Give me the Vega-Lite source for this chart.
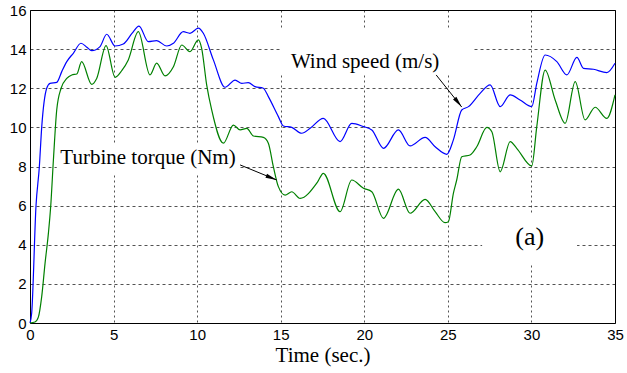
{
  "$schema": "https://vega.github.io/schema/vega-lite/v6.json",
  "width": 585,
  "height": 313,
  "autosize": {"type": "none"},
  "padding": {"left": 30, "top": 10, "right": 12, "bottom": 50},
  "background": "white",
  "datasets": {
    "series": [
      {"t":0,"v":0,"s":"wind"},{"t":0.1,"v":0.5,"s":"wind"},{"t":0.36,"v":6.0,"s":"wind"},{"t":0.56,"v":8.0,"s":"wind"},{"t":0.7,"v":10.0,"s":"wind"},{"t":1.0,"v":12.0,"s":"wind"},{"t":1.2,"v":12.25,"s":"wind"},{"t":1.6,"v":12.3,"s":"wind"},{"t":1.9,"v":12.85,"s":"wind"},{"t":2.2,"v":13.36,"s":"wind"},{"t":2.6,"v":13.8,"s":"wind"},{"t":3.05,"v":14.3,"s":"wind"},{"t":3.4,"v":14.1,"s":"wind"},{"t":3.69,"v":13.92,"s":"wind"},{"t":4.19,"v":14.13,"s":"wind"},{"t":4.59,"v":14.76,"s":"wind"},{"t":5.09,"v":14.16,"s":"wind"},{"t":5.58,"v":14.26,"s":"wind"},{"t":6.1,"v":14.8,"s":"wind"},{"t":6.52,"v":15.18,"s":"wind"},{"t":7.08,"v":14.38,"s":"wind"},{"t":7.58,"v":14.43,"s":"wind"},{"t":8.18,"v":14.16,"s":"wind"},{"t":8.58,"v":14.3,"s":"wind"},{"t":9.17,"v":14.89,"s":"wind"},{"t":9.57,"v":14.81,"s":"wind"},{"t":10.07,"v":15.07,"s":"wind"},{"t":10.37,"v":14.81,"s":"wind"},{"t":10.97,"v":13.45,"s":"wind"},{"t":11.67,"v":12.05,"s":"wind"},{"t":12.27,"v":12.42,"s":"wind"},{"t":12.67,"v":12.25,"s":"wind"},{"t":13.06,"v":12.29,"s":"wind"},{"t":13.46,"v":12.08,"s":"wind"},{"t":13.96,"v":12.0,"s":"wind"},{"t":14.26,"v":11.57,"s":"wind"},{"t":14.86,"v":10.55,"s":"wind"},{"t":15.16,"v":10.07,"s":"wind"},{"t":15.66,"v":10.0,"s":"wind"},{"t":16.26,"v":9.7,"s":"wind"},{"t":16.76,"v":9.95,"s":"wind"},{"t":17.55,"v":10.46,"s":"wind"},{"t":18.55,"v":9.27,"s":"wind"},{"t":19.25,"v":10.2,"s":"wind"},{"t":19.95,"v":10.04,"s":"wind"},{"t":20.45,"v":9.87,"s":"wind"},{"t":21.15,"v":8.93,"s":"wind"},{"t":22.04,"v":9.87,"s":"wind"},{"t":22.74,"v":9.05,"s":"wind"},{"t":23.64,"v":9.49,"s":"wind"},{"t":24.24,"v":9.01,"s":"wind"},{"t":24.94,"v":8.62,"s":"wind"},{"t":25.33,"v":9.36,"s":"wind"},{"t":25.83,"v":10.89,"s":"wind"},{"t":26.23,"v":11.06,"s":"wind"},{"t":26.93,"v":11.74,"s":"wind"},{"t":27.53,"v":12.17,"s":"wind"},{"t":28.13,"v":11.06,"s":"wind"},{"t":28.73,"v":11.66,"s":"wind"},{"t":29.32,"v":11.4,"s":"wind"},{"t":30.02,"v":11.06,"s":"wind"},{"t":30.32,"v":12.25,"s":"wind"},{"t":30.82,"v":13.7,"s":"wind"},{"t":31.52,"v":13.36,"s":"wind"},{"t":32.12,"v":12.68,"s":"wind"},{"t":32.72,"v":13.58,"s":"wind"},{"t":33.11,"v":13.02,"s":"wind"},{"t":33.71,"v":12.97,"s":"wind"},{"t":34.51,"v":12.8,"s":"wind"},{"t":35,"v":13.28,"s":"wind"},
      {"t":0,"v":0,"s":"torque"},{"t":0.3,"v":0.05,"s":"torque"},{"t":0.5,"v":0.3,"s":"torque"},{"t":0.7,"v":1.35,"s":"torque"},{"t":0.9,"v":3.05,"s":"torque"},{"t":1.1,"v":4.58,"s":"torque"},{"t":1.24,"v":5.98,"s":"torque"},{"t":1.4,"v":8.33,"s":"torque"},{"t":1.6,"v":10.9,"s":"torque"},{"t":1.86,"v":12.0,"s":"torque"},{"t":2.2,"v":12.5,"s":"torque"},{"t":2.5,"v":12.68,"s":"torque"},{"t":2.8,"v":12.73,"s":"torque"},{"t":3.09,"v":13.36,"s":"torque"},{"t":3.69,"v":12.2,"s":"torque"},{"t":3.99,"v":12.5,"s":"torque"},{"t":4.55,"v":14.18,"s":"torque"},{"t":5.09,"v":12.56,"s":"torque"},{"t":5.49,"v":12.9,"s":"torque"},{"t":5.88,"v":13.45,"s":"torque"},{"t":6.48,"v":14.89,"s":"torque"},{"t":7.18,"v":12.68,"s":"torque"},{"t":7.58,"v":13.28,"s":"torque"},{"t":8.08,"v":12.63,"s":"torque"},{"t":8.58,"v":13.1,"s":"torque"},{"t":9.08,"v":14.21,"s":"torque"},{"t":9.57,"v":13.87,"s":"torque"},{"t":10.07,"v":14.47,"s":"torque"},{"t":10.27,"v":14.04,"s":"torque"},{"t":10.57,"v":12.17,"s":"torque"},{"t":10.87,"v":10.89,"s":"torque"},{"t":11.57,"v":9.19,"s":"torque"},{"t":12.17,"v":10.12,"s":"torque"},{"t":12.57,"v":9.87,"s":"torque"},{"t":12.97,"v":9.95,"s":"torque"},{"t":13.37,"v":9.56,"s":"torque"},{"t":13.96,"v":9.49,"s":"torque"},{"t":14.26,"v":9.19,"s":"torque"},{"t":14.56,"v":7.99,"s":"torque"},{"t":14.86,"v":6.97,"s":"torque"},{"t":15.26,"v":6.54,"s":"torque"},{"t":15.66,"v":6.71,"s":"torque"},{"t":16.16,"v":6.37,"s":"torque"},{"t":17.2,"v":7.2,"s":"torque"},{"t":17.55,"v":7.65,"s":"torque"},{"t":18.55,"v":5.69,"s":"torque"},{"t":19.25,"v":7.31,"s":"torque"},{"t":19.95,"v":6.89,"s":"torque"},{"t":20.45,"v":6.71,"s":"torque"},{"t":21.15,"v":5.35,"s":"torque"},{"t":22.04,"v":6.84,"s":"torque"},{"t":22.74,"v":5.61,"s":"torque"},{"t":23.64,"v":6.32,"s":"torque"},{"t":24.24,"v":5.69,"s":"torque"},{"t":24.83,"v":5.13,"s":"torque"},{"t":25.03,"v":5.18,"s":"torque"},{"t":25.33,"v":6.63,"s":"torque"},{"t":25.53,"v":7.31,"s":"torque"},{"t":25.83,"v":8.5,"s":"torque"},{"t":26.33,"v":8.59,"s":"torque"},{"t":26.73,"v":9.01,"s":"torque"},{"t":27.33,"v":10.0,"s":"torque"},{"t":27.63,"v":9.78,"s":"torque"},{"t":28.13,"v":7.73,"s":"torque"},{"t":28.73,"v":9.27,"s":"torque"},{"t":29.12,"v":8.93,"s":"torque"},{"t":30.02,"v":8.03,"s":"torque"},{"t":30.32,"v":10.04,"s":"torque"},{"t":30.82,"v":12.93,"s":"torque"},{"t":31.42,"v":11.4,"s":"torque"},{"t":32.02,"v":10.21,"s":"torque"},{"t":32.62,"v":12.34,"s":"torque"},{"t":33.21,"v":10.38,"s":"torque"},{"t":33.81,"v":11.03,"s":"torque"},{"t":34.51,"v":10.46,"s":"torque"},{"t":35,"v":11.66,"s":"torque"}
    ],
    "boxes": [
      {"x": 14.96, "x2": 26.45, "y": 12.68, "y2": 14.98},
      {"x": 1.6, "x2": 12.57, "y": 7.57, "y2": 9.1},
      {"x": 27.05, "x2": 32.73, "y": 2.97, "y2": 5.62}
    ],
    "arrows": [
      {"name": "wind", "x": 24.3, "y": 12.68, "x2": 25.83, "y2": 11.04},
      {"name": "torque", "x": 12.57, "y": 8.08, "x2": 14.76, "y2": 7.31}
    ],
    "labels": [
      {"label": "Wind speed (m/s)", "x": 20.05, "y": 13.34},
      {"label": "Turbine torque (Nm)", "x": 7.06, "y": 8.44}
    ],
    "tag": [
      {"label": "(a)", "x": 29.9, "y": 4.4}
    ]
  },
  "encoding": {
    "x": {"type": "quantitative", "scale": {"domain": [0, 35], "nice": false},
      "axis": {"title": "Time (sec.)", "values": [0, 5, 10, 15, 20, 25, 30, 35], "gridDash": [2, 3], "labelPadding": 4, "labelFlush": false,
        "titleFont": "Liberation Serif", "titleFontSize": 21, "titleFontWeight": 300, "titleColor": "#000000", "titlePadding": 2,
        "encode": {"title": {"update": {"fontWeight": {"value": "normal"}}}}}},
    "y": {"type": "quantitative", "scale": {"domain": [0, 16], "nice": false},
      "axis": {"title": null, "values": [0, 2, 4, 6, 8, 10, 12, 14, 16], "gridDash": [3, 3], "labelPadding": 4, "labelFlush": false}}
  },
  "layer": [
    {
      "data": {"name": "boxes"},
      "mark": {"type": "rect", "fill": "white", "stroke": null},
      "encoding": {
        "x": {"field": "x", "type": "quantitative"},
        "x2": {"field": "x2"},
        "y": {"field": "y", "type": "quantitative"},
        "y2": {"field": "y2"}
      }
    },
    {
      "data": {"name": "series"},
      "mark": {"type": "line", "strokeWidth": 1.2, "interpolate": "monotone"},
      "encoding": {
        "x": {"field": "t", "type": "quantitative"},
        "y": {"field": "v", "type": "quantitative"},
        "color": {"field": "s", "type": "nominal", "scale": {"domain": ["wind", "torque"], "range": ["#0000ff", "#008000"]}, "legend": null}
      }
    },
    {
      "data": {"name": "arrows"},
      "mark": {"type": "rule", "color": "black", "strokeWidth": 1},
      "encoding": {
        "x": {"field": "x", "type": "quantitative"},
        "y": {"field": "y", "type": "quantitative"},
        "x2": {"field": "x2"},
        "y2": {"field": "y2"}
      }
    },
    {
      "data": {"name": "arrows"},
      "transform": [{"filter": "datum.name === 'wind'"}],
      "mark": {"type": "point", "shape": "M0,0L0.3,1.6L-0.3,1.6Z", "filled": true, "color": "black", "opacity": 1, "size": 200, "angle": 141.5},
      "encoding": {
        "x": {"field": "x2", "type": "quantitative"},
        "y": {"field": "y2", "type": "quantitative"}
      }
    },
    {
      "data": {"name": "arrows"},
      "transform": [{"filter": "datum.name === 'torque'"}],
      "mark": {"type": "point", "shape": "M0,0L0.3,1.6L-0.3,1.6Z", "filled": true, "color": "black", "opacity": 1, "size": 200, "angle": 112.2},
      "encoding": {
        "x": {"field": "x2", "type": "quantitative"},
        "y": {"field": "y2", "type": "quantitative"}
      }
    },
    {
      "data": {"name": "labels"},
      "mark": {"type": "text", "font": "Liberation Serif", "fontSize": 21, "color": "black", "align": "center", "baseline": "middle"},
      "encoding": {
        "x": {"field": "x", "type": "quantitative"},
        "y": {"field": "y", "type": "quantitative"},
        "text": {"field": "label"}
      }
    },
    {
      "data": {"name": "tag"},
      "mark": {"type": "text", "font": "Liberation Serif", "fontSize": 26, "color": "black", "align": "center", "baseline": "middle"},
      "encoding": {
        "x": {"field": "x", "type": "quantitative"},
        "y": {"field": "y", "type": "quantitative"},
        "text": {"field": "label"}
      }
    }
  ],
  "config": {
    "view": {"stroke": "black", "strokeWidth": 1},
    "axis": {
      "domain": false,
      "ticks": false,
      "gridColor": "#000000",
      "gridWidth": 0.8,
      "gridOpacity": 0.85,
      "labelFont": "Liberation Sans",
      "labelFontSize": 15,
      "labelColor": "#000000"
    }
  }
}
